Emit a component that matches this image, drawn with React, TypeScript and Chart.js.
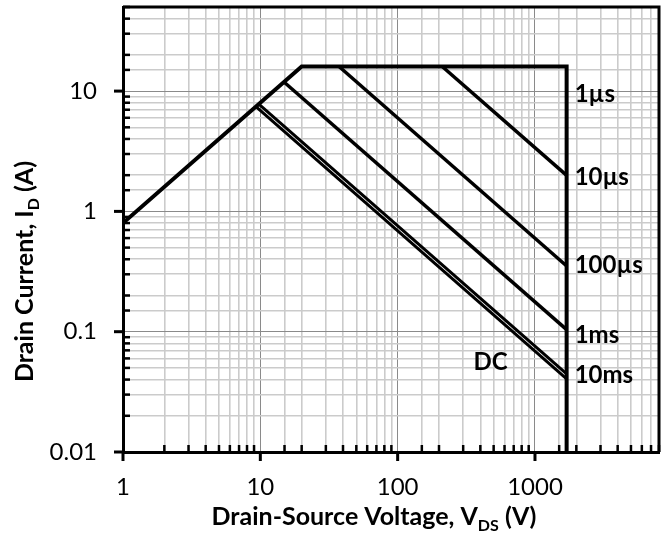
import React, { useEffect, useRef } from "react";
import { Chart, registerables } from "chart.js";

Chart.register(...registerables);

// ---- data (V in volts, I in amps) ----
const envelopeV = [1, 20, 1700, 1700];
const envelopeI = [0.8, 16, 16, 0.01];
const us10V = [211, 1700];
const us10I = [16, 1.99];
const us100V = [37.4, 1700];
const us100I = [16, 0.352];
const ms1V = [14.87, 1700];
const ms1I = [11.9, 0.104];
const ms10V = [9.75, 1700];
const ms10I = [7.8, 0.0447];
const dcV = [9.29, 1700];
const dcI = [7.43, 0.0406];

const xTickLabels = [1, 10, 100, 1000];
const yTickLabels = [0.01, 0.1, 1, 10];

const curveLabels = ["1µs", "10µs", "100µs", "1ms", "10ms", "DC"];
const curveLabelV = [1700, 1700, 1700, 1700, 1700, 357];
const curveLabelI = [9.6, 1.96, 0.364, 0.0957, 0.044, 0.0569];

const FAMILY = "Lato, 'Open Sans', sans-serif";

const isPow10 = (v: number) => {
  const l = Math.log10(v);
  return Math.abs(l - Math.round(l)) < 1e-6;
};
const labelFor = (list: number[], v: number) => {
  const f = list.find((t) => Math.abs(Math.log10(t) - Math.log10(v)) < 1e-6);
  return f === undefined ? "" : String(f);
};

const toPts = (xs: number[], ys: number[]) => xs.map((x, i) => ({ x, y: ys[i] }));

type Part = { t: string; sub?: boolean };

function drawRich(ctx: CanvasRenderingContext2D, parts: Part[], cx: number, by: number) {
  const main = `bold 25px ${FAMILY}`;
  const sub = `bold 16px ${FAMILY}`;
  let total = 0;
  for (const p of parts) {
    ctx.font = p.sub ? sub : main;
    total += ctx.measureText(p.t).width;
  }
  let x = cx - total / 2;
  ctx.textAlign = "left";
  ctx.textBaseline = "alphabetic";
  for (const p of parts) {
    ctx.font = p.sub ? sub : main;
    ctx.fillText(p.t, x, p.sub ? by + 6 : by);
    x += ctx.measureText(p.t).width;
  }
}

const decorPlugin = {
  id: "decor",
  afterDatasetsDraw(chart: any) {
    const ctx: CanvasRenderingContext2D = chart.ctx;
    const xs = chart.scales.x;
    const ys = chart.scales.y;
    const area = chart.chartArea;
    ctx.save();
    ctx.strokeStyle = "#000";
    // top & right frame
    ctx.lineWidth = 3;
    ctx.beginPath();
    ctx.moveTo(area.left, area.top);
    ctx.lineTo(area.right, area.top);
    ctx.lineTo(area.right, area.bottom);
    ctx.stroke();
    // tick marks
    for (const t of xs.ticks) {
      const px = xs.getPixelForValue(t.value);
      ctx.beginPath();
      if (isPow10(t.value)) {
        ctx.lineWidth = 3;
        ctx.moveTo(px, area.bottom);
        ctx.lineTo(px, area.bottom + 9);
      } else {
        ctx.lineWidth = 2.5;
        ctx.moveTo(px, area.bottom);
        ctx.lineTo(px, area.bottom - 7);
      }
      ctx.stroke();
    }
    for (const t of ys.ticks) {
      const py = ys.getPixelForValue(t.value);
      ctx.beginPath();
      if (isPow10(t.value)) {
        ctx.lineWidth = 3;
        ctx.moveTo(area.left, py);
        ctx.lineTo(area.left - 9, py);
      } else {
        ctx.lineWidth = 2.5;
        ctx.moveTo(area.left, py);
        ctx.lineTo(area.left + 7, py);
      }
      ctx.stroke();
    }
    // curve labels
    ctx.fillStyle = "#000";
    ctx.font = `bold 24px ${FAMILY}`;
    ctx.textAlign = "left";
    ctx.textBaseline = "alphabetic";
    curveLabels.forEach((txt, i) => {
      const px = xs.getPixelForValue(curveLabelV[i]) + (curveLabelV[i] === 1700 ? 8 : 0);
      const py = ys.getPixelForValue(curveLabelI[i]);
      ctx.fillText(txt, px, py + 0.36 * 24);
    });
    // axis titles
    drawRich(
      ctx,
      [{ t: "Drain-Source Voltage, V" }, { t: "DS", sub: true }, { t: " (V)" }],
      374,
      525
    );
    ctx.save();
    ctx.translate(33, 271.5);
    ctx.rotate(-Math.PI / 2);
    drawRich(ctx, [{ t: "Drain Current, I" }, { t: "D", sub: true }, { t: " (A)" }], 0, 0);
    ctx.restore();
    ctx.restore();
  },
};

export default function App() {
  const ref = useRef<HTMLCanvasElement | null>(null);
  useEffect(() => {
    if (!ref.current) return;
    const line = (xs: number[], ys: number[], w = 3.5) => ({
      data: toPts(xs, ys),
      showLine: true,
      borderColor: "#000",
      backgroundColor: "#000",
      borderWidth: w,
      pointRadius: 0,
      tension: 0,
      fill: false,
    });
    const gridColor = (c: any) => (c.tick && isPow10(c.tick.value) ? "#8a8a8a" : "#cbcbcb");
    const gridWidth = (c: any) => (c.tick && isPow10(c.tick.value) ? 1 : 1.6);
    const chart = new Chart(ref.current, {
      type: "scatter",
      data: {
        datasets: [
          line(envelopeV, envelopeI, 4),
          line(us10V, us10I),
          line(us100V, us100I),
          line(ms1V, ms1I),
          line(ms10V, ms10I, 3),
          line(dcV, dcI, 3),
        ],
      },
      options: {
        animation: false,
        responsive: false,
        devicePixelRatio: 1,
        layout: { padding: { top: 7, right: 7, left: 0, bottom: 0 } },
        plugins: { legend: { display: false }, tooltip: { enabled: false } },
        scales: {
          x: {
            type: "logarithmic",
            min: 1,
            max: 8000,
            afterFit: (s: any) => {
              s.height = 83;
              s.paddingLeft = 0;
              s.paddingRight = 0;
              s.paddingTop = 0;
              s.paddingBottom = 0;
            },
            border: { display: true, color: "#000", width: 3 },
            grid: {
              color: gridColor,
              lineWidth: gridWidth,
              drawTicks: true,
              tickLength: 9,
              tickColor: "rgba(0,0,0,0)",
            },
            ticks: {
              autoSkip: false,
              maxRotation: 0,
              minRotation: 0,
              padding: 12,
              color: "#000",
              font: { family: FAMILY, size: 24 },
              callback: (v: any) => labelFor(xTickLabels, Number(v)),
            },
          },
          y: {
            type: "logarithmic",
            min: 0.01,
            max: 50,
            afterFit: (s: any) => {
              s.width = 123;
              s.paddingLeft = 0;
              s.paddingRight = 0;
              s.paddingTop = 0;
              s.paddingBottom = 0;
            },
            border: { display: true, color: "#000", width: 3 },
            grid: {
              color: gridColor,
              lineWidth: gridWidth,
              drawTicks: true,
              tickLength: 9,
              tickColor: "rgba(0,0,0,0)",
            },
            ticks: {
              autoSkip: false,
              padding: 17,
              color: "#000",
              font: { family: FAMILY, size: 24 },
              callback: (v: any) => labelFor(yTickLabels, Number(v)),
            },
          },
        },
      } as any,
      plugins: [decorPlugin],
    });
    return () => chart.destroy();
  }, []);
  return (
    <div style={{ position: "fixed", left: 0, top: 0, width: 666, height: 535, background: "#fff" }}>
      <canvas ref={ref} width={666} height={535} style={{ width: 666, height: 535 }} />
    </div>
  );
}
